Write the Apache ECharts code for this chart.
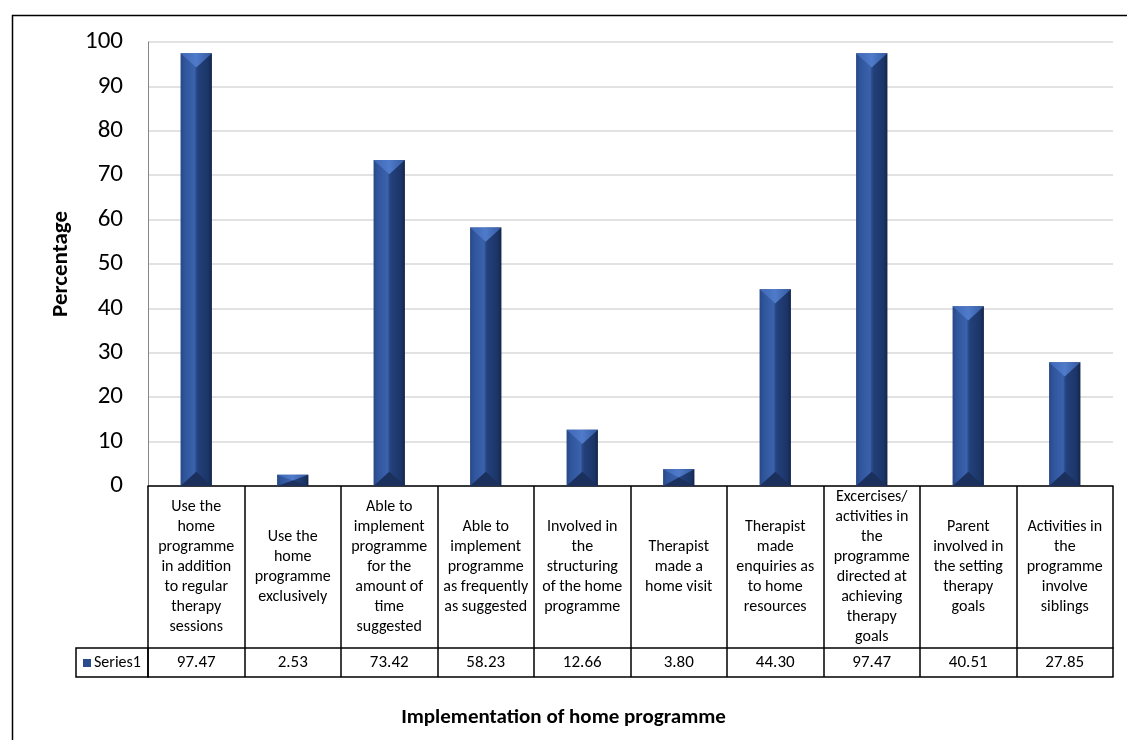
<!DOCTYPE html>
<html>
<head>
<meta charset="utf-8">
<script src="https://cdn.jsdelivr.net/npm/echarts@6/dist/echarts.min.js"></script>
<style>
html,body{margin:0;padding:0;background:#fff;}
#chart{width:1127px;height:740px;}
</style>
</head>
<body>
<div id="chart"></div>
<script>
const categories = [
  "Use the\nhome\nprogramme\nin addition\nto regular\ntherapy\nsessions",
  "Use the\nhome\nprogramme\nexclusively",
  "Able to\nimplement\nprogramme\nfor the\namount of\ntime\nsuggested",
  "Able to\nimplement\nprogramme\nas frequently\nas suggested",
  "Involved in\nthe\nstructuring\nof the home\nprogramme",
  "Therapist\nmade a\nhome visit",
  "Therapist\nmade\nenquiries as\nto home\nresources",
  "Excercises/\nactivities in\nthe\nprogramme\ndirected at\nachieving\ntherapy\ngoals",
  "Parent\ninvolved in\nthe setting\ntherapy\ngoals",
  "Activities in\nthe\nprogramme\ninvolve\nsiblings"
];
const series1 = [97.47, 2.53, 73.42, 58.23, 12.66, 3.80, 44.30, 97.47, 40.51, 27.85];
const seriesName = "Series1";
const yTicks = { min: 0, max: 100, interval: 10 };
const xTitle = "Implementation of home programme";
const yTitle = "Percentage";

const FONT = "Carlito, Lato, sans-serif";
const chart = echarts.init(document.getElementById('chart'));

function renderBar(params, api) {
  const idx = api.value(0);
  const top = api.coord([idx, api.value(1)]);
  const base = api.coord([idx, 0]);
  const bw = api.size([1, 0])[0] * 0.325;
  const x0 = top[0] - bw / 2, x1 = top[0] + bw / 2, xc = top[0];
  const yt = top[1], yb = base[1];
  const h = yb - yt;
  const d = Math.min(bw / 2.2, h / 2);
  return {
    type: 'group',
    children: [
      {
        type: 'rect',
        shape: { x: x0, y: yt, width: bw, height: h },
        style: {
          fill: new echarts.graphic.LinearGradient(0, 0, 1, 0, [
            { offset: 0, color: '#284784' },
            { offset: 0.12, color: '#2f549b' },
            { offset: 0.45, color: '#3a63ac' },
            { offset: 0.5, color: '#2b4b8c' },
            { offset: 0.56, color: '#22407a' },
            { offset: 0.88, color: '#1c3567' },
            { offset: 1, color: '#13264a' }
          ])
        }
      },
      {
        type: 'polygon',
        shape: { points: [[x0, yt], [x1, yt], [xc, yt + d]] },
        style: {
          fill: new echarts.graphic.LinearGradient(0, 0, 1, 0, [
            { offset: 0, color: '#3e66b3' },
            { offset: 0.5, color: '#4f7bca' },
            { offset: 1, color: '#35599f' }
          ])
        }
      },
      {
        type: 'polygon',
        shape: { points: [[x0, yb], [x1, yb], [xc, yb - d]] },
        style: { fill: '#1b305c' }
      }
    ]
  };
}

const option = {
  backgroundColor: '#ffffff',
  animation: false,
  textStyle: { fontFamily: FONT },
  title: {
    text: xTitle,
    left: 'center',
    top: 702,
    textStyle: { fontFamily: FONT, fontWeight: 'bold', fontSize: 21, color: '#000' }
  },
  legend: {
    data: [{ name: seriesName, icon: 'rect' }],
    left: 83,
    top: 655,
    padding: 0,
    itemWidth: 8,
    itemHeight: 8,
    itemGap: 4,
    textStyle: { fontFamily: FONT, fontSize: 16, color: '#000', padding: [0, 0, 0, -2] }
  },
  grid: { left: 148, right: 14, top: 42, bottom: 254, containLabel: false },
  xAxis: [
    {
      type: 'category',
      data: categories,
      boundaryGap: true,
      position: 'bottom',
      axisLine: { show: true, lineStyle: { color: '#000', width: 1.5 } },
      axisTick: { show: true, length: 191, interval: 0, lineStyle: { color: '#000', width: 1.5 } },
      axisLabel: {
        interval: 0,
        margin: 81,
        verticalAlign: 'middle',
        align: 'center',
        lineHeight: 20,
        fontSize: 16,
        fontFamily: FONT,
        color: '#000',
        hideOverlap: false
      },
      splitLine: { show: false }
    },
    {
      type: 'category',
      data: series1.map(v => v.toFixed(2)),
      boundaryGap: true,
      position: 'bottom',
      offset: 162,
      axisLine: { show: true, lineStyle: { color: '#000', width: 1.5 } },
      axisTick: { show: false },
      axisLabel: {
        interval: 0,
        margin: 15,
        verticalAlign: 'middle',
        fontSize: 17,
        fontFamily: FONT,
        color: '#000'
      }
    },
    {
      type: 'category',
      data: series1.map(v => v.toFixed(2)),
      boundaryGap: true,
      position: 'bottom',
      offset: 191,
      axisLine: { show: true, lineStyle: { color: '#000', width: 1.5 } },
      axisTick: { show: false },
      axisLabel: { show: false }
    }
  ],
  yAxis: {
    type: 'value',
    min: yTicks.min,
    max: yTicks.max,
    interval: yTicks.interval,
    name: yTitle,
    nameLocation: 'middle',
    nameGap: 75,
    nameTextStyle: { fontFamily: FONT, fontWeight: 'bold', fontSize: 23, color: '#000' },
    axisLine: { show: true, lineStyle: { color: '#868686', width: 1 } },
    axisTick: { show: false },
    axisLabel: { margin: 25, fontSize: 25, fontFamily: FONT, color: '#000' },
    splitLine: { show: true, lineStyle: { color: '#d9d9d9', width: 1.5 } }
  },
  series: [
    {
      name: seriesName,
      type: 'custom',
      xAxisIndex: 0,
      yAxisIndex: 0,
      itemStyle: { color: '#2b4c8c' },
      renderItem: renderBar,
      encode: { x: 0, y: 1 },
      data: series1.map((v, i) => [i, v])
    }
  ],
  graphic: [
    {
      type: 'rect',
      left: 10, top: 13,
      shape: { x: 0, y: 0, width: 1300, height: 900 },
      style: { fill: 'none', stroke: '#000', lineWidth: 1.5 },
      silent: true,
      z: -1
    },
    {
      type: 'rect',
      shape: { x: 76, y: 648, width: 72, height: 29 },
      style: { fill: 'none', stroke: '#000', lineWidth: 1.5 },
      silent: true
    }
  ]
};
chart.setOption(option);
</script>
</body>
</html>
